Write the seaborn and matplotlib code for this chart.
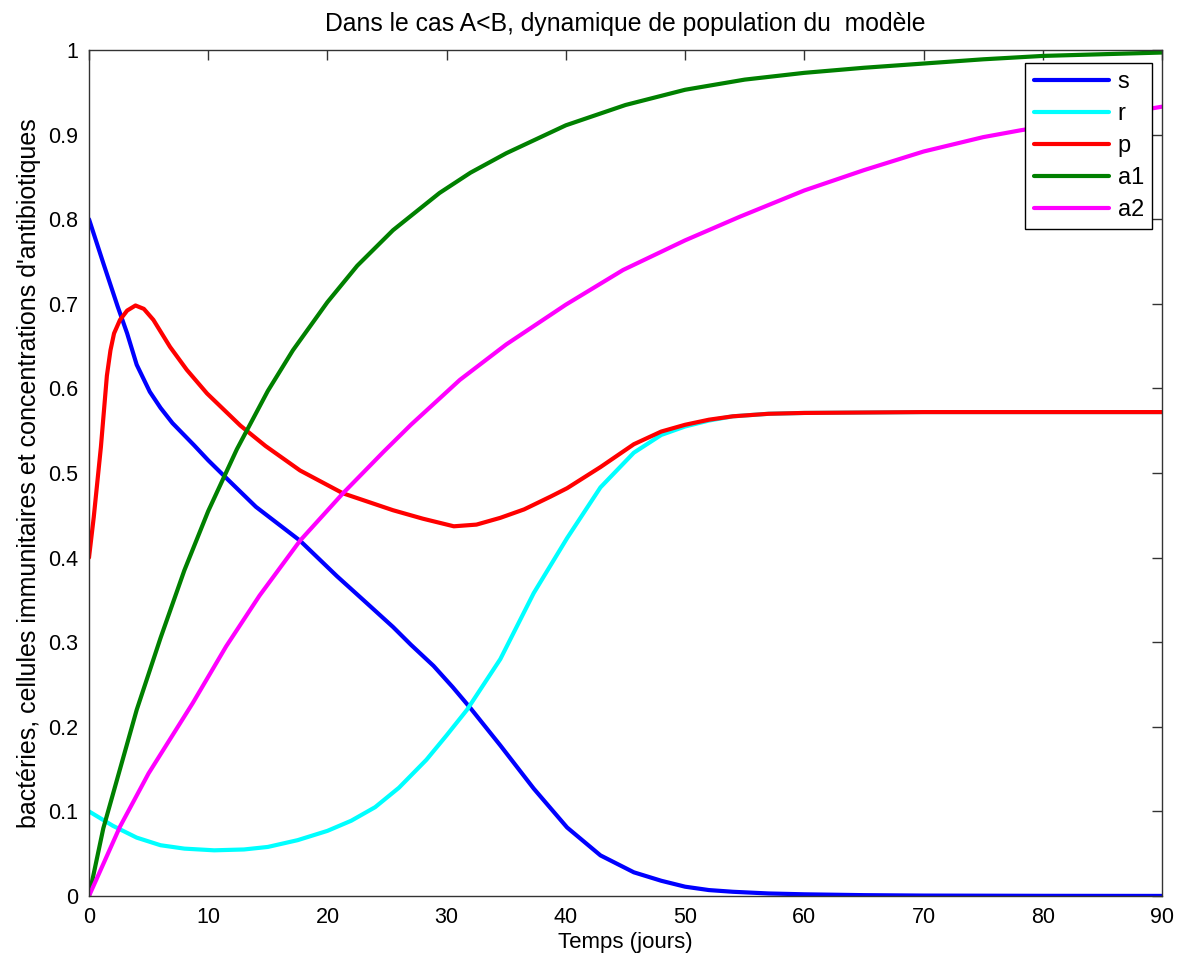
import numpy as np
import pandas as pd
import matplotlib
matplotlib.use('Agg')
import matplotlib.pyplot as plt
import seaborn as sns

### Data ###

t_s = [0, 1.2, 2.4, 3.2, 4, 5.1, 6, 7, 8.8, 10, 11.3, 14, 17.7, 20.8, 23, 25.5, 27, 28.9, 30.5,
       32, 34.5, 37.3, 40.1, 42.9, 45.7, 48, 50, 52, 54, 57, 60, 65, 70, 80, 90]
s = [0.800, 0.748, 0.697, 0.665, 0.628, 0.596, 0.577, 0.559, 0.533, 0.515, 0.497, 0.460, 0.420,
     0.378, 0.350, 0.318, 0.297, 0.272, 0.247, 0.222, 0.178, 0.127, 0.081, 0.048, 0.028, 0.018,
     0.011, 0.007, 0.005, 0.003, 0.002, 0.001, 0.0005, 0.0002, 0.0001]

t_r = [0, 2, 4, 6, 8, 10.5, 13, 15, 17.5, 20, 22, 24, 26, 28.3, 30, 31.7, 34.5, 37.3, 40.1,
       42.9, 45.7, 48, 50, 52, 54, 57, 60, 70, 90]
r = [0.100, 0.083, 0.069, 0.060, 0.056, 0.054, 0.055, 0.058, 0.066, 0.077, 0.089, 0.105, 0.128,
     0.161, 0.190, 0.220, 0.280, 0.358, 0.423, 0.483, 0.524, 0.545, 0.555, 0.562, 0.567, 0.570,
     0.571, 0.572, 0.572]

t_p = [0, 0.4, 1, 1.5, 1.8, 2.1, 2.6, 3.2, 3.9, 4.6, 5.4, 6.8, 8.2, 9.9, 12.7, 14.8, 17.7, 21.3,
       25.5, 28, 30.6, 32.5, 34.5, 36.5, 38.7, 40.1, 42.9, 45.7, 48, 50, 52, 54, 57, 60, 70, 90]
p = [0.400, 0.448, 0.531, 0.615, 0.645, 0.665, 0.681, 0.692, 0.698, 0.694, 0.681, 0.649, 0.622,
     0.594, 0.556, 0.532, 0.503, 0.476, 0.456, 0.446, 0.437, 0.439, 0.447, 0.457, 0.472, 0.482,
     0.507, 0.534, 0.549, 0.557, 0.563, 0.567, 0.570, 0.571, 0.572, 0.572]

t_a1 = [0, 1.2, 2.5, 4, 6, 8, 10, 12.4, 15, 17.1, 20, 22.5, 25.5, 29.4, 32, 35, 40, 45, 50, 55,
        60, 65, 70, 75, 80, 85, 90]
a1 = [0, 0.080, 0.145, 0.220, 0.305, 0.385, 0.455, 0.528, 0.597, 0.645, 0.702, 0.745, 0.787,
      0.831, 0.855, 0.878, 0.911, 0.935, 0.953, 0.965, 0.973, 0.979, 0.984, 0.989, 0.993, 0.995,
      0.997]

t_a2 = [0, 2.6, 5, 8.7, 11.5, 14.3, 17.7, 21.3, 24.7, 27, 29.4, 31.1, 35, 40, 44.8, 50, 54.6, 60,
        65, 70, 75, 78.1, 85, 90]
a2 = [0, 0.082, 0.145, 0.228, 0.295, 0.355, 0.420, 0.476, 0.525, 0.557, 0.588, 0.610, 0.652,
      0.699, 0.740, 0.775, 0.803, 0.834, 0.858, 0.880, 0.897, 0.905, 0.921, 0.933]

names = ['s', 'r', 'p', 'a1', 'a2']
colors = ['#0000ff', '#00ffff', '#ff0000', '#008000', '#ff00ff']

series = {'s': (t_s, s), 'r': (t_r, r), 'p': (t_p, p), 'a1': (t_a1, a1), 'a2': (t_a2, a2)}

### Chart ###

sns.set_style('white')
plt.rcParams['font.family'] = ['Liberation Sans', 'DejaVu Sans']
plt.rcParams['text.color'] = 'black'
plt.rcParams['axes.labelcolor'] = 'black'

fig = plt.figure(figsize=(11.87, 9.64), dpi=100)
ax = fig.add_axes([89 / 1187, 68 / 964, 1073 / 1187, 846 / 964])

for name, col in zip(names, colors):
    tt, vv = series[name]
    df = pd.DataFrame({'t': tt, 'v': vv})
    sns.lineplot(data=df, x='t', y='v', ax=ax, color=col, linewidth=3, label=name,
                 sort=False, estimator=None)

ax.set_xlim(0, 90)
ax.set_ylim(0, 1)
ax.set_xticks(range(0, 91, 10))
ax.set_yticks(np.arange(0, 1.01, 0.1))
ax.set_yticklabels(['0', '0.1', '0.2', '0.3', '0.4', '0.5', '0.6', '0.7', '0.8', '0.9', '1'])
ax.tick_params(direction='in', length=7, width=1, colors='#333333', labelcolor='black',
               labelsize=15.5, top=True, right=True, pad=8)
for sp in ax.spines.values():
    sp.set_color('#333333')
    sp.set_linewidth(1)

ax.set_title('Dans le cas A<B, dynamique de population du  modèle', fontsize=17.8, pad=14,
             color='black')
ax.set_xlabel('Temps (jours)', fontsize=16, labelpad=3)
ax.set_ylabel("bactéries, cellules immunitaires et concentrations d'antibiotiques",
              fontsize=18, labelpad=5)

leg = ax.legend(loc='upper right', bbox_to_anchor=(0.9907, 0.9846), borderaxespad=0,
                fancybox=False, framealpha=1, edgecolor='black', fontsize=17,
                handlelength=3.2, labelspacing=0.42, handletextpad=0.35, borderpad=0.35)
leg.get_frame().set_linewidth(1)

fig.savefig('out.png', dpi=100)
